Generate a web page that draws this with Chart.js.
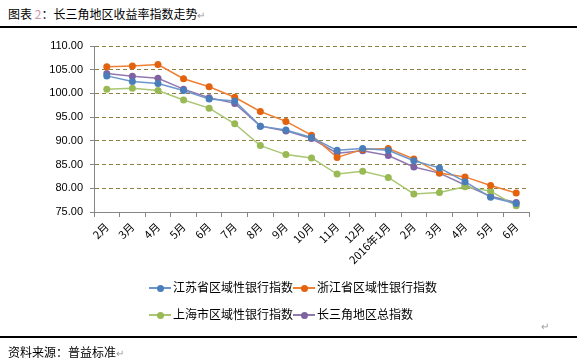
<!DOCTYPE html>
<html>
<head>
<meta charset="utf-8">
<script src="https://cdn.jsdelivr.net/npm/chart.js@4.4.0/dist/chart.umd.min.js"></script>
<style>
  body { margin: 0; background: #fff; font-family: "Noto Sans CJK SC", sans-serif; }
  #wrap { position: relative; width: 584px; height: 362px; overflow: hidden; }
  #chart { position: absolute; left: 0; top: 0; }
  .txt { position: absolute; font-size: 12px; color: #000; white-space: nowrap; line-height: 14px; }
  .rule { position: absolute; left: 0; width: 577px; height: 2px; background: #000; }
  .ret { color: #999; font-size: 10px; }
  .leg { position: absolute; font-size: 12px; line-height: 14px; white-space: nowrap; }
  .mk { display: inline-block; position: relative; width: 22px; height: 10px; vertical-align: -1px; margin-right: 2px; }
  .mk i { position: absolute; left: 0; right: 0; top: 4px; height: 2px; }
  .mk b { position: absolute; left: 8px; top: 2px; width: 7px; height: 7px; border-radius: 50%; }
</style>
</head>
<body>
<div id="wrap">
  <div class="txt" style="left:8px;top:7px;">图表 <span style="color:#c9a">2</span>：长三角地区收益率指数走势<span class="ret">↵</span></div>
  <div class="rule" style="top:26px;"></div>
  <canvas id="chart" width="584" height="362"></canvas>
  <div id="legend"></div>
  <div class="txt ret" style="left:541px;top:319px;">↵</div>
  <div class="rule" style="top:336px;"></div>
  <div class="txt" style="left:8px;top:345px;">资料来源：普益标准<span class="ret">↵</span></div>
</div>
<script>
// Data
const months = ['2月', '3月', '4月', '5月', '6月', '7月', '8月', '9月', '10月', '11月', '12月', '2016年1月', '2月', '3月', '4月', '5月', '6月'];
const jiangsu  = [103.7, 102.5, 102.1, 100.6, 98.8, 98.4, 93.1, 92.3, 90.7, 88.0, 88.4, 88.0, 85.8, 84.3, 81.4, 78.1, 76.8];
const zhejiang = [105.6, 105.8, 106.1, 103.1, 101.4, 99.2, 96.2, 94.1, 91.2, 86.5, 88.2, 88.4, 86.2, 83.2, 82.4, 80.6, 79.0];
const shanghai = [100.9, 101.1, 100.6, 98.6, 96.9, 93.6, 89.0, 87.1, 86.4, 83.0, 83.6, 82.3, 78.8, 79.1, 80.3, 79.4, 76.3];
const yrd      = [104.2, 103.6, 103.2, 100.9, 99.1, 97.9, 93.1, 92.1, 90.5, 87.4, 87.9, 86.9, 84.5, 83.2, 80.7, 78.3, 77.0];
const yTicks = [75, 80, 85, 90, 95, 100, 105, 110];

const seriesInfo = [
  { label: '江苏省区域性银行指数', data: jiangsu,  line: '#6a96cc', dot: '#4a7ebb' },
  { label: '浙江省区域性银行指数', data: zhejiang, line: '#ee8034', dot: '#e2620e' },
  { label: '上海市区域性银行指数', data: shanghai, line: '#a9c672', dot: '#98b954' },
  { label: '长三角地区总指数',     data: yrd,      line: '#9179b0', dot: '#7f62a1' }
];

// HTML legend, 2 columns
const legPos = [[149, 280], [293, 280], [149, 307], [293, 307]];
document.getElementById('legend').innerHTML = seriesInfo.map((s, i) => `
  <div class="leg" style="left:${legPos[i][0]}px;top:${legPos[i][1]}px;">
    <span class="mk"><i style="background:${s.line}"></i><b style="background:${s.dot}"></b></span>${s.label}
  </div>`).join('');

const ctx = document.getElementById('chart').getContext('2d');
new Chart(ctx, {
  type: 'line',
  data: {
    labels: months,
    datasets: seriesInfo.map(s => ({
      label: s.label,
      data: s.data,
      borderColor: s.line,
      backgroundColor: s.dot,
      pointBackgroundColor: s.dot,
      pointBorderColor: s.dot,
      borderWidth: 1.5,
      pointRadius: 3.5,
      pointBorderWidth: 0,
      tension: 0
    }))
  },
  options: {
    responsive: false,
    animation: false,
    layout: { padding: { left: 0, top: 46, right: 55, bottom: 90 } },
    plugins: { legend: { display: false }, tooltip: { enabled: false } },
    scales: {
      x: {
        offset: true,
        afterFit: s => { s.height = 60; },
        grid: { display: true, drawOnChartArea: false, drawTicks: true, tickLength: 5, offset: true, color: '#868686', tickColor: '#868686' },
        border: { color: '#868686', width: 1 },
        ticks: {
          color: '#000', padding: 3, maxRotation: 45, minRotation: 45, autoSkip: false,
          font: { family: '"Noto Sans CJK SC", sans-serif', size: 11 }
        }
      },
      y: {
        min: 75, max: 110,
        afterFit: s => { s.width = 94; },
        afterBuildTicks: s => { s.ticks = yTicks.map(v => ({ value: v })); },
        grid: { color: '#8e8045', lineWidth: 1, tickLength: 4, tickColor: '#868686', tickBorderDash: [] },
        border: { color: '#868686', width: 1, dash: [4, 3] },
        ticks: {
          color: '#000', padding: 7,
          font: { family: '"Liberation Sans", sans-serif', size: 11 },
          callback: v => v.toFixed(2)
        }
      }
    }
  }
});
</script>
</body>
</html>
